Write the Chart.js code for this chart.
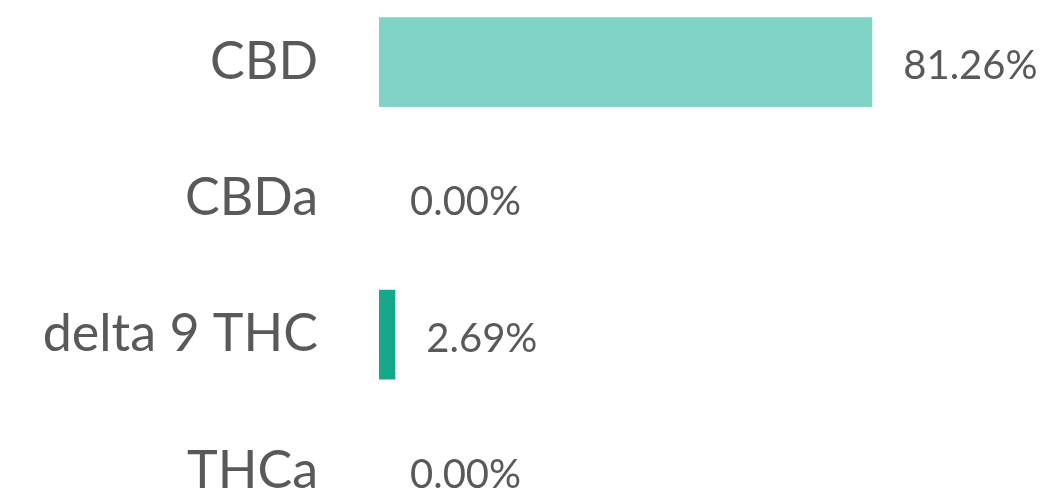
<!DOCTYPE html>
<html>
<head>
<meta charset="utf-8">
<script src="https://cdn.jsdelivr.net/npm/chart.js@4"></script>
<style>
html,body{margin:0;padding:0;background:#fff;overflow:hidden;width:1042px;height:499px;}
#c{position:absolute;left:0;top:-6px;width:1042px;height:545px;}
</style>
</head>
<body>
<canvas id="c" width="1042" height="545"></canvas>
<script>
const categories = ["CBD", "CBDa", "delta 9 THC", "THCa"];
const values = [81.26, 0.00, 2.69, 0.00];
const valueLabels = ["81.26%", "0.00%", "2.69%", "0.00%"];
const barColors = ["#7fd4c6", "#7fd4c6", "#15a88b", "#15a88b"];

const FONT = "Lato, 'Open Sans', sans-serif";
const TEXT = "#595959";

const valueLabelPlugin = {
  id: 'valueLabels',
  afterDatasetsDraw(chart) {
    const ctx = chart.ctx;
    const meta = chart.getDatasetMeta(0);
    ctx.save();
    ctx.font = "40px " + FONT;
    ctx.fillStyle = TEXT;
    ctx.textAlign = 'left';
    ctx.textBaseline = 'middle';
    meta.data.forEach((bar, i) => {
      ctx.fillText(valueLabels[i], bar.x + 31, bar.y + 4);
    });
    ctx.restore();
  }
};

new Chart(document.getElementById('c'), {
  type: 'bar',
  data: {
    labels: categories,
    datasets: [{
      data: values,
      backgroundColor: barColors,
      borderWidth: 0,
      categoryPercentage: 1,
      barPercentage: 0.66
    }]
  },
  options: {
    indexAxis: 'y',
    responsive: false,
    maintainAspectRatio: false,
    devicePixelRatio: 1,
    animation: false,
    layout: { padding: { left: 0, right: 56, top: 0, bottom: 0 } },
    plugins: { legend: { display: false }, tooltip: { enabled: false } },
    scales: {
      x: { display: false, min: 0, max: 100 },
      y: {
        grid: { display: false, drawTicks: false },
        border: { display: false },
        ticks: { color: TEXT, font: { family: FONT, size: 52 }, padding: 61 },
        afterFit(scale) { scale.width = 379; scale.paddingTop = 0; scale.paddingBottom = 0; }
      }
    }
  },
  plugins: [valueLabelPlugin]
});
</script>
</body>
</html>
